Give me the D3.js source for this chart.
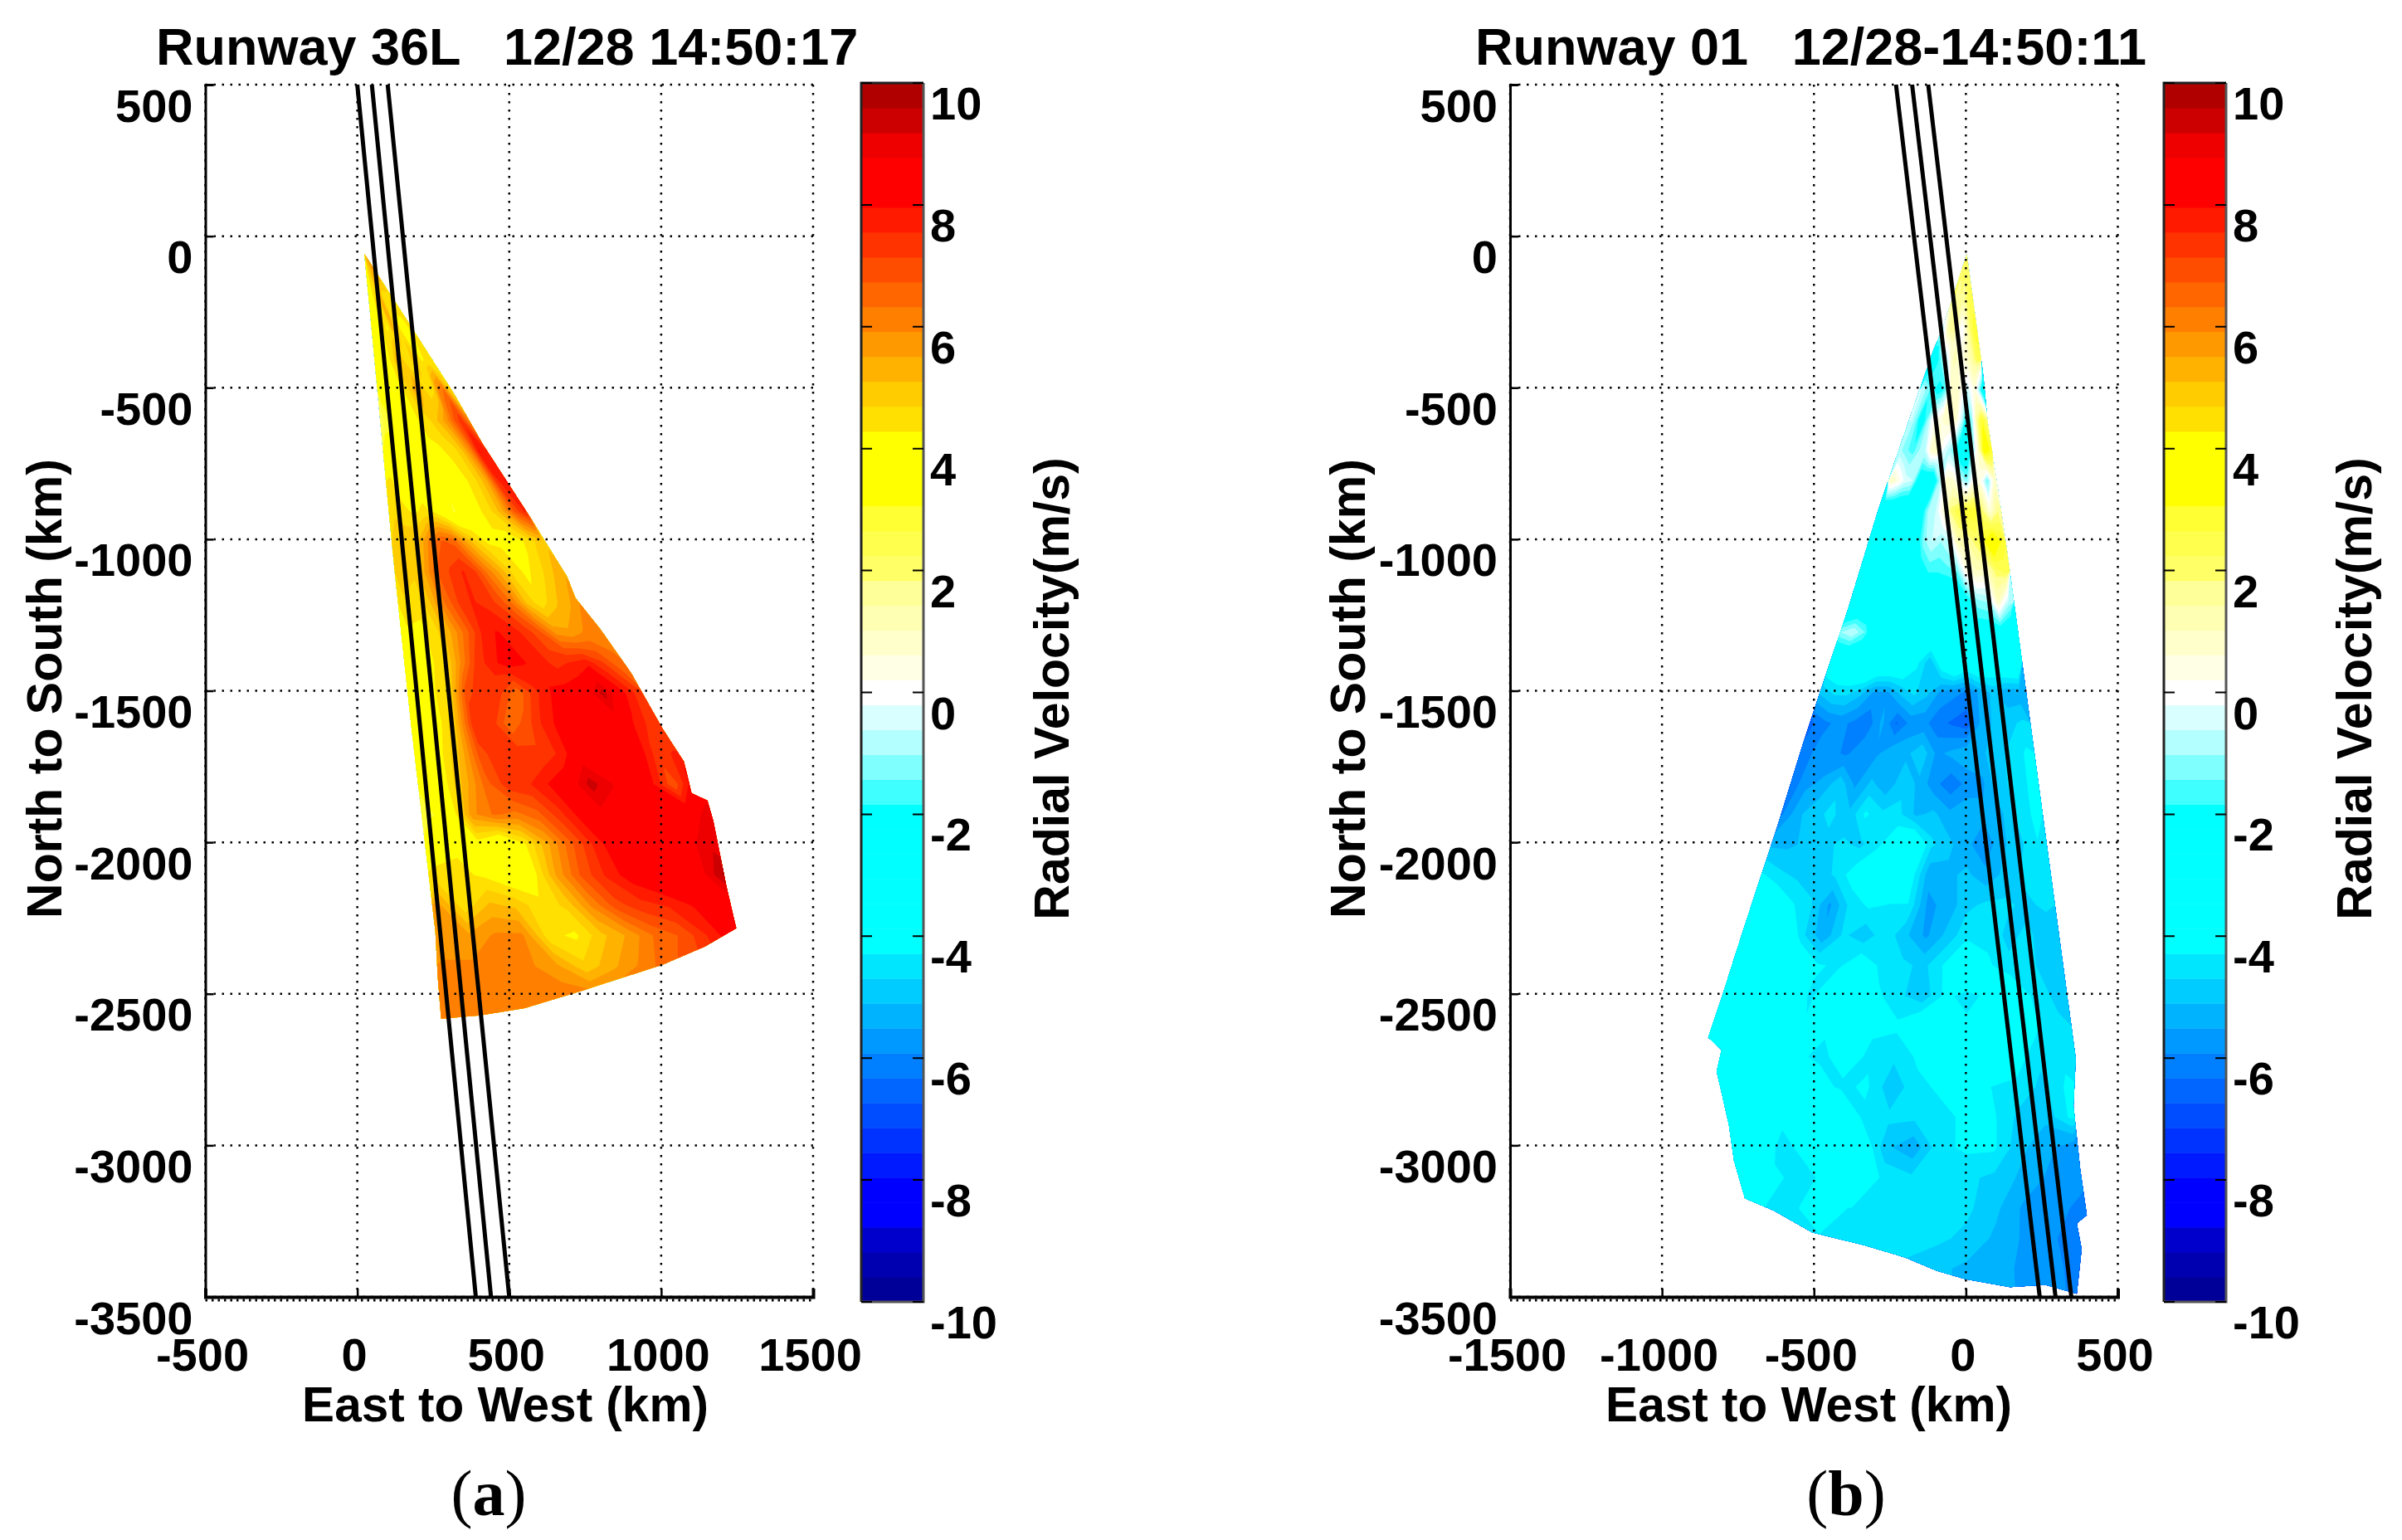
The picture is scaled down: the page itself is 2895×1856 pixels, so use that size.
<!DOCTYPE html>
<html>
<head>
<meta charset="utf-8">
<script src="https://cdn.jsdelivr.net/npm/d3@7"></script>
<style>
  html, body { margin: 0; background: #fff; }
  text { font-family: "Liberation Sans", Arial, sans-serif; font-weight: bold; fill: #000; white-space: pre; }
  .cap { font-family: "Liberation Serif", serif; font-weight: normal; }
</style>
</head>
<body>
<script>
// tick labels
const xTicksA = [-500, 0, 500, 1000, 1500]
const xTicksB = [-1500, -1000, -500, 0, 500]
const yTicks = [500, 0, -500, -1000, -1500, -2000, -2500, -3000, -3500]
const barTicks = [10, 8, 6, 4, 2, 0, -2, -4, -6, -8, -10]

// colormap, bottom to top, 49 steps
const barColors = [
  "#000099", "#0000b0", "#0000cc", "#0000ff", "#0000ff", "#001aff", "#0033ff", "#004dff", "#0066ff",
  "#0080ff", "#0099ff", "#00b3ff", "#00ccff", "#00e6ff", "#00ffff", "#00ffff", "#00ffff", "#00ffff",
  "#00ffff", "#00ffff", "#40ffff", "#80ffff", "#b3ffff", "#d9ffff", "#ffffff",
  "#ffffe6", "#ffffcc", "#ffffb3", "#ffff99", "#ffff66", "#ffff4d", "#ffff33", "#ffff00", "#ffff00",
  "#ffff00", "#ffe000", "#ffcc00", "#ffb300", "#ff9900", "#ff8000", "#ff6600", "#ff4d00", "#ff3300",
  "#ff1a00", "#ff0000", "#ff0000", "#ee0000", "#cc0000", "#b00000"
]

// scan outline, km
const fanAX = [23, 46, 100, 126, 177, 221, 257, 265, 276, 404, 551, 742, 1004, 1144, 1247, 1215, 1171, 1152, 1100, 1075, 1004, 901, 797, 718, 690, 570, 412, 205, 74]
const fanAY = [-58, -294, -879, -1134, -1610, -1988, -2295, -2448, -2582, -2571, -2547, -2489, -2404, -2344, -2284, -2147, -1928, -1862, -1838, -1734, -1624, -1441, -1293, -1194, -1123, -929, -685, -318, -116]
const fanBX = [3, -80, -137, -222, -263, -326, -390, -475, -538, -620, -694, -757, -801, -848, -804, -820, -804, -779, -763, -727, -631, -505, -337, -200, -96, -3, 145, 261, 365, 381, 365, 398, 376, 354, 359, 365, 335, 346, 313, 318, 291, 277, 250, 230, 145, 71, 52]
const fanBY = [-57, -315, -441, -679, -818, -1027, -1237, -1489, -1681, -1946, -2171, -2365, -2505, -2644, -2685, -2757, -2825, -2937, -3050, -3175, -3216, -3288, -3329, -3370, -3414, -3441, -3468, -3460, -3490, -3342, -3258, -3230, -3077, -2869, -2770, -2631, -2518, -2491, -2338, -2280, -2100, -1960, -1793, -1681, -1098, -608, -400]

// runway centre and edge lines: x at y=500 and at y=-3500
const runwayTopA = [0, 48, 100]
const runwayBottomA = [390, 440, 500]
const runwayTopB = [-230, -177, -124]
const runwayBottomB = [243, 295, 347]

// radial velocity: rows go down in 100 km steps,
// columns go across the fan from its left edge to its right edge
const valuesA = [
  [4.2, 4.2, 4.4, 4.6, 4.8, 5, 5, 5.2, 5.4, 5.4, 5.5, 5.6, 5.6, 5.6],
  [4, 4, 4.2, 4.4, 4.4, 4.6, 5.4, 5.2, 4.6, 4.4, 4.4, 4.4, 4.4, 4.4],
  [3.6, 3.8, 4, 4.2, 4.4, 4.2, 4.6, 5.4, 4.8, 4.4, 4, 4.2, 4.2, 4.4],
  [3.4, 3.8, 4, 4.2, 4.6, 5.4, 5, 4.4, 4.4, 5.2, 4.6, 4.2, 4.4, 4.4],
  [3.4, 3.6, 3.8, 4, 4.2, 4.4, 5, 5.8, 5, 4.4, 4.6, 6, 6.4, 5],
  [2.6, 3, 3.8, 4, 4, 4.2, 4.4, 4.6, 5, 5.4, 6, 6.8, 7.4, 6.2],
  [3.6, 3.2, 3.8, 4, 4, 4, 4.2, 4.2, 4.4, 4.6, 5.2, 6.2, 8, 7.6],
  [4.4, 4, 4, 4, 3.8, 3.6, 3.2, 3.4, 4, 4.4, 4.8, 5.6, 7.4, 8],
  [4.6, 4.4, 4.2, 4.4, 4.2, 3.6, 3, 3.4, 4, 4.4, 4.8, 5.6, 6.8, 7.6],
  [5, 5, 5.2, 6.2, 6.8, 6.6, 5.6, 4.8, 4.2, 4.2, 4, 4.2, 4.6, 5],
  [5, 4.8, 5.6, 6.8, 7.2, 7.6, 7.2, 6.2, 5.4, 4.6, 4.2, 4.4, 5, 5.4],
  [4.6, 4.4, 5.2, 6.4, 7.2, 7.6, 7.4, 7, 6.2, 5, 4.4, 5, 5.4, 6],
  [4.2, 4.2, 4.6, 5.6, 6.6, 7.6, 8, 7.8, 7.4, 6.8, 5.8, 5.6, 6, 6.2],
  [4.2, 4.2, 4.4, 5.8, 7.2, 7.8, 8.2, 8, 7.8, 7.4, 7.6, 7.8, 7.2, 6.4],
  [4, 4.2, 4.6, 7, 7.4, 7.2, 6.4, 7.4, 8, 8.2, 8.4, 9.4, 8.2, 7.4],
  [4, 4, 5, 7.4, 7.4, 6.4, 7, 7.8, 8.2, 8.4, 8.4, 8.4, 7.8, 7.2],
  [4, 4.2, 5.2, 7, 7.4, 7.4, 7.2, 7.6, 8.4, 8.4, 8.6, 8.4, 7.4, 7.6],
  [4, 4.2, 5.4, 6.6, 7.4, 7.5, 8, 8.4, 9.4, 8.8, 8.4, 8, 6.8, 8.4],
  [2.8, 3.8, 5.8, 6.4, 6.2, 6.6, 7.4, 8.2, 8.6, 8.6, 8.4, 8.4, 8.6, 9],
  [4, 4.2, 4, 3.2, 4.2, 5.4, 6.6, 7.6, 8.4, 8.6, 8.6, 8.6, 9, 9.2],
  [4.4, 4.4, 4.2, 3.8, 4, 5.6, 6.8, 7.6, 8.2, 8.6, 8.4, 8.6, 9.8, 9],
  [5.6, 4.4, 5.2, 5, 4.4, 4.8, 6, 7, 7.4, 7.6, 8, 8.6, 8.8, 8.8],
  [5.6, 5.6, 6, 6, 4.4, 4.2, 5, 5.6, 6.4, 6.8, 7.6, 8.4, 8.4, 8.4],
  [6, 6, 6, 6, 5.6, 4.8, 5.4, 6, 6.6, 7, 7.6, 7.8, 7.8, 7.8],
  [6, 6, 6, 6.2, 6.2, 6.2, 6.4, 6.6, 6.8, 7, 7.2, 7.4, 7.6, 7.6],
  [6, 6, 6, 6.2, 6.4, 6.4, 6.4, 6.6, 6.8, 7, 7.2, 7.4, 7.6, 7.6]
]

const valuesB = [
  [2, 2, 2, 2, 2, 2, 2, 2, 2, 2, 2, 2, 2, 2, 2, 2],
  [2, 2, 1.8, 1.6, 1.6, 1.6, 1.8, 1.8, 1.6, 1.6, 1.8, 2, 2.2, 2.4, 2.4, 2.4],
  [-0.4, -0.4, 0.6, 1.4, 1.6, 1.8, 1.4, 0.8, 0.2, -0.2, 0.4, 1.2, 1.8, 2.2, 2.8, 3],
  [-3, -3, -2, -1.4, -1, -0.4, 0.6, 1.2, 1, 0.4, 0.6, 0.8, 1.2, 1.6, 2.2, 2.4],
  [-0.6, -1, -1.4, -1.8, -2.2, -2, -1.2, 0.6, 1, 0.8, 0, -0.6, 0, 0.6, -1, -3.2],
  [-0.6, -1.4, -2.8, -1.4, 0, 0.4, 0.6, 0.8, 0.8, 0.6, -0.6, -2.4, -1, 1.6, 3, 2],
  [-1, -1.4, -1.6, -1, -0.6, 0.8, 1, -0.2, -0.8, -1.6, -3, -3, -1.2, 1, 3.8, 3],
  [1, 0.4, -0.4, -0.6, -2.6, -3, -3, -1, 0.8, 0.8, -0.4, -1.2, 0.4, 0.4, -1.4, 0.8],
  [-3.4, -3.2, -3.2, -3.2, -3, -2.6, -1, -0.6, 0.6, 2, 2.6, 3, 3, 2, 0.6, 1.8],
  [-3.4, -3.2, -3, -3, -3, -2.8, -1.2, -0.6, -1, -0.6, 1.2, 1.4, 2, 3, 4.2, 3],
  [-3.4, -3.4, -2.8, -3.2, -3.2, -3, -2.4, -1.8, -1.8, -1.6, -1.4, 0.4, 1, 0.8, 2, 2.4],
  [-3.6, -3.4, -3.2, -3.2, -3.2, -3.2, -3.2, -3.2, -3.2, -3.2, -3, -2.4, -1.2, -1, 1, -0.8],
  [-1, -0.6, -1.4, -3.2, -3.2, -3.2, -3.2, -3.2, -3.2, -3, -2.4, -1.8, -2.4, -2.4, -2.6, -3],
  [-3.6, -3.4, -3.2, -2.8, -3.2, -3.2, -3.4, -4.2, -5, -3.8, -3, -3.6, -3.2, -3.6, -3.2, -3],
  [-5, -4.6, -4.6, -5, -5.6, -5.6, -5, -4.6, -5, -5.6, -5.8, -6, -5.4, -5, -5.4, -5.4],
  [-6.4, -6, -5.8, -6, -6.2, -5.4, -6.4, -5.8, -5.8, -6.2, -6.4, -6.6, -5.4, -5, -4.8, -4.6],
  [-6.2, -5.8, -5.8, -6, -5.6, -5.6, -5.2, -5.2, -4.8, -5.6, -5.4, -5.2, -5.2, -4.8, -4.6, -4.2],
  [-6.2, -5.6, -5.4, -4.8, -5.6, -5, -5.4, -4.8, -5.2, -5.8, -6.2, -5.8, -5.6, -4.8, -4.6, -4.2],
  [-6, -5.2, -4.8, -4.6, -5, -4.2, -4.6, -4.6, -5.2, -5, -5.4, -5.2, -5.4, -5.2, -4.6, -4.2],
  [-5.2, -5.2, -5, -4.8, -4.6, -4.8, -4.4, -3.8, -3.4, -4.6, -5, -5.4, -5.8, -5.2, -4.8, -4.3],
  [-4.2, -4.6, -4.8, -5, -4.6, -4, -3.6, -3.8, -4, -5.4, -5.2, -5, -5.4, -5, -4.6, -4.6],
  [-3.2, -3.6, -4.2, -4.6, -5.6, -4.6, -4.2, -4.3, -4.3, -5.6, -5.4, -4.8, -4.6, -4.6, -4.8, -4.6],
  [-3, -3.2, -3.2, -4.6, -5.4, -4.6, -5, -4.4, -5, -5.6, -5, -4.4, -4.4, -4.8, -4.6, -5],
  [-3, -3, -3, -3.4, -4.2, -4.4, -3.8, -4.4, -4.6, -4.8, -4.2, -3.6, -4.2, -4.6, -4.6, -5],
  [-3, -3, -3, -3.6, -4.4, -3.6, -3.2, -4.2, -4.6, -5, -4.2, -4.4, -4.2, -3.6, -4.4, -4.8],
  [-2, -2.8, -3, -3, -4.2, -4.2, -3.2, -4.2, -4.2, -3.6, -3.4, -4.2, -3.6, -3.2, -4.2, -4.6],
  [-3, -3, -3, -3, -4.2, -4.4, -4, -4.4, -4.6, -4.2, -3.2, -3.2, -3.2, -4, -4.6, -4.4],
  [-3, -3, -3, -3, -4.2, -4, -4.4, -4.2, -5, -4.4, -4.2, -4, -4.3, -4.4, -4.8, -4.2],
  [-3, -3, -3, -3.4, -4.2, -4.2, -3.2, -4.4, -4.6, -4.6, -4.4, -4.2, -4.2, -4.8, -5, -4.2],
  [-3, -3, -3, -3.4, -4.4, -4.2, -3.2, -3.6, -5, -5.4, -4.4, -4.2, -4.2, -5, -5.4, -5.8],
  [-3, -3, -3, -3.2, -4.2, -4.4, -4.2, -3.6, -4.4, -4.6, -4.4, -4.6, -4.8, -5.2, -5.6, -5.8],
  [-3, -3, -3, -3.2, -4.3, -4.3, -4.2, -4.3, -4.4, -4.4, -4.4, -4.6, -5, -5.6, -5.8, -6],
  [-4.2, -4.2, -4.3, -4.3, -4.3, -4.3, -4.3, -4.4, -4.4, -4.5, -4.6, -4.8, -5.2, -5.6, -5.9, -6.2],
  [-4.6, -4.6, -4.6, -4.6, -4.6, -4.7, -4.7, -4.7, -4.8, -4.8, -5, -5.2, -5.4, -5.6, -5.9, -6],
  [-4.6, -4.6, -4.6, -4.6, -4.6, -4.7, -4.7, -4.7, -4.8, -4.8, -5, -5.2, -5.4, -5.6, -5.9, -6]
]

// setup canvas
let width = 2895
let height = 1856

let svg = d3.select("body").append("svg")
    .attr("width", width)
    .attr("height", height)
    .style("display", "block")

const levels = d3.range(barColors.length).map(i => -10 + i * 20 / barColors.length)

drawPanel({
    id: "a", x0: 247.5, domain: [-500, 1500], xTicks: xTicksA, barLeft: 1038,
    title: "Runway 36L   12/28 14:50:17", titleX: 188, xLabelX: 609, yLabelX: 54, cbLabelX: 1268,
    fanX: fanAX, fanY: fanAY, values: valuesA, apex: [23, -58], slopeL: 0.095, slopeR: 0.64,
    runTop: runwayTopA, runBottom: runwayBottomA, capX: 589
})
drawPanel({
    id: "b", x0: 1820, domain: [-1500, 500], xTicks: xTicksB, barLeft: 2608,
    title: "Runway 01   12/28-14:50:11", titleX: 1778, xLabelX: 2180, yLabelX: 1625, cbLabelX: 2838,
    fanX: fanBX, fanY: fanBY, values: valuesB, apex: [3, -57], slopeL: -0.345, slopeR: 0.135,
    runTop: runwayTopB, runBottom: runwayBottomB, capX: 2225
})

function drawPanel(p) {
    let x = d3.scaleLinear().domain(p.domain).range([p.x0, p.x0 + 732.5])
    let y = d3.scaleLinear().domain([500, -3500]).range([102, 1563])
    let g = svg.append("g").attr("class", "panel-" + p.id)

    // the scan itself: filled contours on the fan grid, cut by the outline
    let outline = d3.line()(p.fanX.map((d, i) => [x(d), y(p.fanY[i])]))
    g.append("clipPath").attr("id", "fan-" + p.id).append("path").attr("d", outline + "Z")

    let rows = p.values.length
    let cols = p.values[0].length
    let contours = d3.contours().size([cols, rows]).thresholds(levels)(p.values.flat())

    let project = d3.geoTransform({
        point: function(c, r) {
            let down = r * 100
            let slope = p.slopeL + (p.slopeR - p.slopeL) * c / cols
            this.stream.point(x(p.apex[0] + slope * down), y(p.apex[1] - down))
        }
    })
    g.append("g")
        .attr("clip-path", "url(#fan-" + p.id + ")")
        .selectAll("path")
        .data(contours)
        .enter()
        .append("path")
            .attr("d", d3.geoPath(project))
            .attr("fill", (d, i) => barColors[i])

    // dotted grid
    let grid = g.append("g").attr("class", "grid")
    grid.selectAll("line.gx").data(p.xTicks).enter().append("line")
        .attr("x1", d => x(d)).attr("x2", d => x(d))
        .attr("y1", y(500)).attr("y2", y(-3500))
    grid.selectAll("line.gy").data(yTicks).enter().append("line")
        .attr("x1", x(p.domain[0])).attr("x2", x(p.domain[1]))
        .attr("y1", d => y(d)).attr("y2", d => y(d))
    grid.selectAll("line")
        .attr("stroke", "#000")
        .attr("stroke-width", 2.5)
        .attr("stroke-dasharray", "2.5 7.5")

    // runway lines
    let line = d3.line().x(d => x(d[0])).y(d => y(d[1]))
    p.runTop.forEach((t, i) => {
        g.append("path")
            .attr("d", line([[t, 500], [p.runBottom[i], -3500]]))
            .attr("fill", "none")
            .attr("stroke", "#000")
            .attr("stroke-width", 5)
    })

    // axes
    let xAxis = d3.axisBottom(x).tickValues(p.xTicks).tickSize(-10).tickPadding(0).tickFormat(d => d)
    let gx = g.append("g").attr("transform", "translate(0," + y(-3500) + ")").call(xAxis)
    gx.selectAll("text").attr("x", -4).attr("y", 89).attr("dy", 0).attr("font-size", 56)
    let yAxis = d3.axisLeft(y).tickValues(yTicks).tickSize(-10).tickPadding(0).tickFormat(d => d)
    let gy = g.append("g").attr("transform", "translate(" + x(p.domain[0]) + ",0)").call(yAxis)
    gy.selectAll("text").attr("x", -15).attr("y", 44).attr("dy", 0).attr("font-size", 56)
    for (let a of [gx, gy]) {
        a.selectAll("line").attr("stroke", "#000").attr("stroke-width", 2.5)
        a.selectAll(".domain").attr("stroke", "#000").attr("stroke-width", 3)
    }
    gx.select(".domain").attr("stroke-width", 4)

    // minor ticks hang under the bottom spine
    g.append("line")
        .attr("x1", x(p.domain[0])).attr("x2", x(p.domain[1]))
        .attr("y1", y(-3500) + 4).attr("y2", y(-3500) + 4)
        .attr("stroke", "#000").attr("stroke-width", 3).attr("stroke-dasharray", "2.5 5")

    // colorbar
    let c = d3.scaleLinear().domain([-10, 10]).range([1569, 100])
    let bar = g.append("g")
    bar.selectAll("rect")
        .data(barColors)
        .enter()
        .append("rect")
            .attr("x", p.barLeft)
            .attr("width", 75)
            .attr("y", (d, i) => c(levels[i] + 20 / barColors.length))
            .attr("height", c(0) - c(20 / barColors.length) + 0.5)
            .attr("fill", d => d)
    bar.append("path")
        .attr("d", "M" + p.barLeft + "," + c(-10) + "V" + c(10) + "H" + (p.barLeft + 75))
        .attr("fill", "none").attr("stroke", "#222").attr("stroke-width", 3)
    bar.append("path")
        .attr("d", "M" + (p.barLeft + 75) + "," + c(10) + "V" + c(-10) + "H" + p.barLeft)
        .attr("fill", "none").attr("stroke", "#555").attr("stroke-width", 3)
    bar.selectAll("path.tl").data(barTicks).enter().append("path")
        .attr("d", d => "M" + p.barLeft + "," + c(d) + "h13M" + (p.barLeft + 62) + "," + c(d) + "h13")
        .attr("stroke", "#000").attr("stroke-width", 2)
    bar.selectAll("text").data(barTicks).enter().append("text")
        .attr("x", p.barLeft + 83)
        .attr("y", d => c(d) + 44)
        .attr("font-size", 56)
        .text(d => d)

    // titles and labels
    g.append("text").attr("x", p.titleX).attr("y", 78).attr("font-size", 63).text(p.title)
    g.append("text").attr("x", p.xLabelX).attr("y", 1713).attr("text-anchor", "middle")
        .attr("font-size", 58.5).text("East to West (km)")
    g.append("text").attr("transform", "translate(" + (p.yLabelX + 20) + ",830) rotate(-90)")
        .attr("text-anchor", "middle").attr("font-size", 59).text("North to South (km)")
    g.append("text").attr("transform", "translate(" + (p.cbLabelX + 20) + ",830) rotate(-90)")
        .attr("text-anchor", "middle").attr("font-size", 59).text("Radial Velocity(m/s)")

    let cap = g.append("text").attr("class", "cap").attr("x", p.capX).attr("y", 1826)
        .attr("text-anchor", "middle").attr("font-size", 78)
    cap.append("tspan").text("(")
    cap.append("tspan").style("font-weight", "bold").text(p.id)
    cap.append("tspan").text(")")
}
</script>
</body>
</html>
